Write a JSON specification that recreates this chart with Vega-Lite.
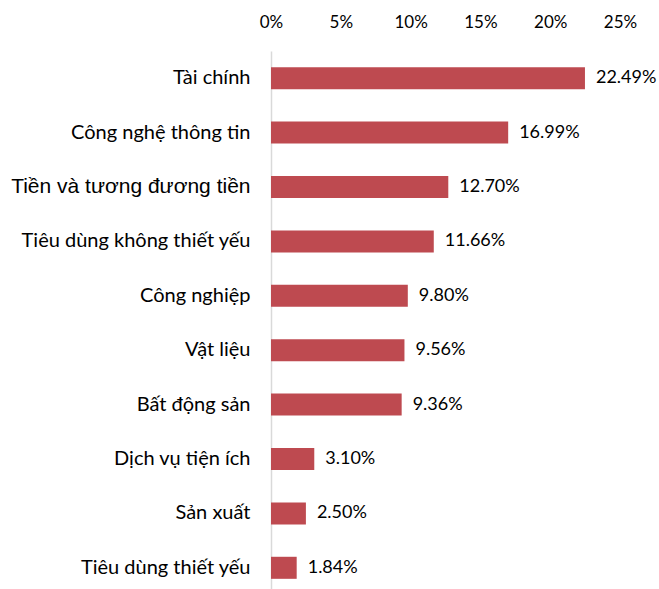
{
  "$schema": "https://vega.github.io/schema/vega-lite/v6.json",
  "autosize": {"type": "none"},
  "width": 349,
  "height": 544,
  "padding": {"left": 271, "top": 51, "right": 39, "bottom": 0},
  "background": "white",
  "config": {"view": {"stroke": null}},
  "data": {
    "values": [
      {"sector": "Tài chính", "share": 0.2249},
      {"sector": "Công nghệ thông tin", "share": 0.1699},
      {"sector": "Tiền và tương đương tiền", "share": 0.1270},
      {"sector": "Tiêu dùng không thiết yếu", "share": 0.1166},
      {"sector": "Công nghiệp", "share": 0.0980},
      {"sector": "Vật liệu", "share": 0.0956},
      {"sector": "Bất động sản", "share": 0.0936},
      {"sector": "Dịch vụ tiện ích", "share": 0.0310},
      {"sector": "Sản xuất", "share": 0.0250},
      {"sector": "Tiêu dùng thiết yếu", "share": 0.0184}
    ]
  },
  "encoding": {
    "y": {
      "field": "sector",
      "type": "nominal",
      "sort": null,
      "scale": {"paddingInner": 0.595, "paddingOuter": 0.2975},
      "axis": {
        "title": null,
        "ticks": false,
        "domainColor": "#D9D9D9",
        "domainWidth": 1.5,
        "labelPadding": 21,
        "labelColor": "#000000",
        "labelFont": {"condition": {"test": "datum.value === 'Tiền và tương đương tiền'", "value": "Liberation Sans"}, "value": "Lato"},
        "labelFontSize": {"condition": {"test": "datum.value === 'Tiền và tương đương tiền'", "value": 21}, "value": 20},
        "labelLimit": 300
      }
    },
    "x": {
      "field": "share",
      "type": "quantitative",
      "scale": {"domain": [0, 0.25]},
      "axis": {
        "orient": "top",
        "format": ".0%",
        "values": [0, 0.05, 0.1, 0.15, 0.2, 0.25],
        "grid": false,
        "ticks": false,
        "domain": false,
        "title": null,
        "labelFont": "Lato",
        "labelFontSize": 17,
        "labelColor": "#000000",
        "labelPadding": 20,
        "labelFlush": false
      }
    }
  },
  "layer": [
    {"mark": {"type": "bar", "color": "#BE4A50"}},
    {
      "mark": {"type": "text", "align": "left", "baseline": "middle", "dx": 11, "font": "Lato", "fontSize": 18, "color": "#000000"},
      "encoding": {"text": {"field": "share", "format": ".2%"}}
    }
  ]
}
